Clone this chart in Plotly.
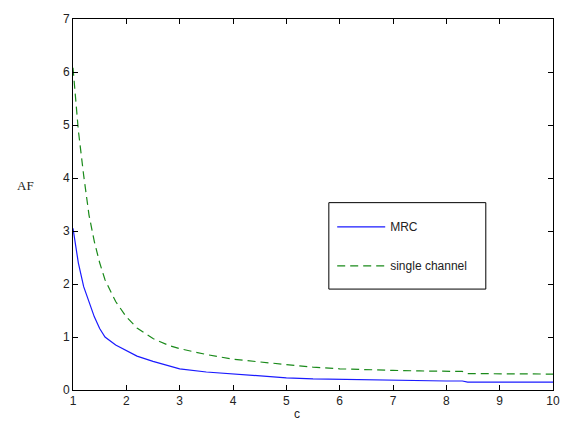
import plotly.graph_objects as go

c_vals = [1.0, 1.1, 1.2, 1.3, 1.4, 1.5, 1.6, 1.8, 2.0, 2.2, 2.5, 2.8, 3.0, 3.5, 4.0,
          4.5, 5.0, 5.5, 6.0, 6.5, 7.0, 7.5, 8.0, 8.3, 8.4, 9.0, 9.5, 10.0]
mrc_vals = [3.05, 2.40, 1.95, 1.65, 1.38, 1.16, 1.00, 0.85, 0.74, 0.64, 0.54, 0.45, 0.40,
            0.34, 0.30, 0.26, 0.23, 0.21, 0.20, 0.19, 0.18, 0.175, 0.17, 0.17, 0.15,
            0.15, 0.15, 0.15]
single_vals = [6.08, 4.90, 4.05, 3.30, 2.80, 2.40, 2.08, 1.67, 1.38, 1.17, 0.97, 0.84,
               0.78, 0.67, 0.58, 0.53, 0.48, 0.43, 0.40, 0.38, 0.37, 0.36, 0.36, 0.35,
               0.31, 0.31, 0.31, 0.30]
x_ticks = [1, 2, 3, 4, 5, 6, 7, 8, 9, 10]
y_ticks = [0, 1, 2, 3, 4, 5, 6, 7]

fig = go.Figure()
fig.add_trace(go.Scatter(x=c_vals, y=mrc_vals, mode="lines", name="MRC",
                         legendgroup="a",
                         line=dict(color="#1a1aff", width=1.2)))
fig.add_trace(go.Scatter(x=c_vals, y=single_vals, mode="lines", name="single channel",
                         legendgroup="b",
                         line=dict(color="#1a8a1a", width=1.2, dash="8px,5px")))

axis_common = dict(showgrid=False, zeroline=False, showline=True, linecolor="black",
                   linewidth=1, mirror="ticks", ticks="inside", ticklen=5,
                   tickcolor="black", ticklabeloverflow="allow",
                   tickfont=dict(family="Liberation Sans, Arial", size=12, color="#222"))
fig.update_layout(
    width=563, height=415,
    margin=dict(l=65, r=18, t=4, b=33),
    paper_bgcolor="white", plot_bgcolor="white",
    xaxis=dict(range=[1, 10], tickvals=x_ticks, **axis_common),
    yaxis=dict(range=[0, 7], tickvals=y_ticks, **axis_common),
    showlegend=True,
    legend=dict(x=0.540, y=0.479, xanchor="left", yanchor="top",
                borderwidth=0, bgcolor="rgba(0,0,0,0)",
                font=dict(family="Liberation Sans, Arial", size=12, color="#222"),
                tracegroupgap=20, itemwidth=48),
    shapes=[dict(type="rect", xref="paper", yref="paper", x0=0.533, x1=0.860,
                 y0=0.272, y1=0.505, line=dict(color="black", width=1),
                 fillcolor="white", layer="above")],
    annotations=[
        dict(text="AF", xref="paper", yref="paper", x=-0.098, y=0.550, showarrow=False,
             xanchor="center", yanchor="middle",
             font=dict(family="Liberation Serif, Times New Roman", size=13, color="#222")),
        dict(text="c", xref="paper", yref="paper", x=0.467, y=-0.066, showarrow=False,
             xanchor="center", yanchor="middle",
             font=dict(family="Liberation Sans, Arial", size=12, color="#222")),
    ],
)
fig.write_html("out.html")
